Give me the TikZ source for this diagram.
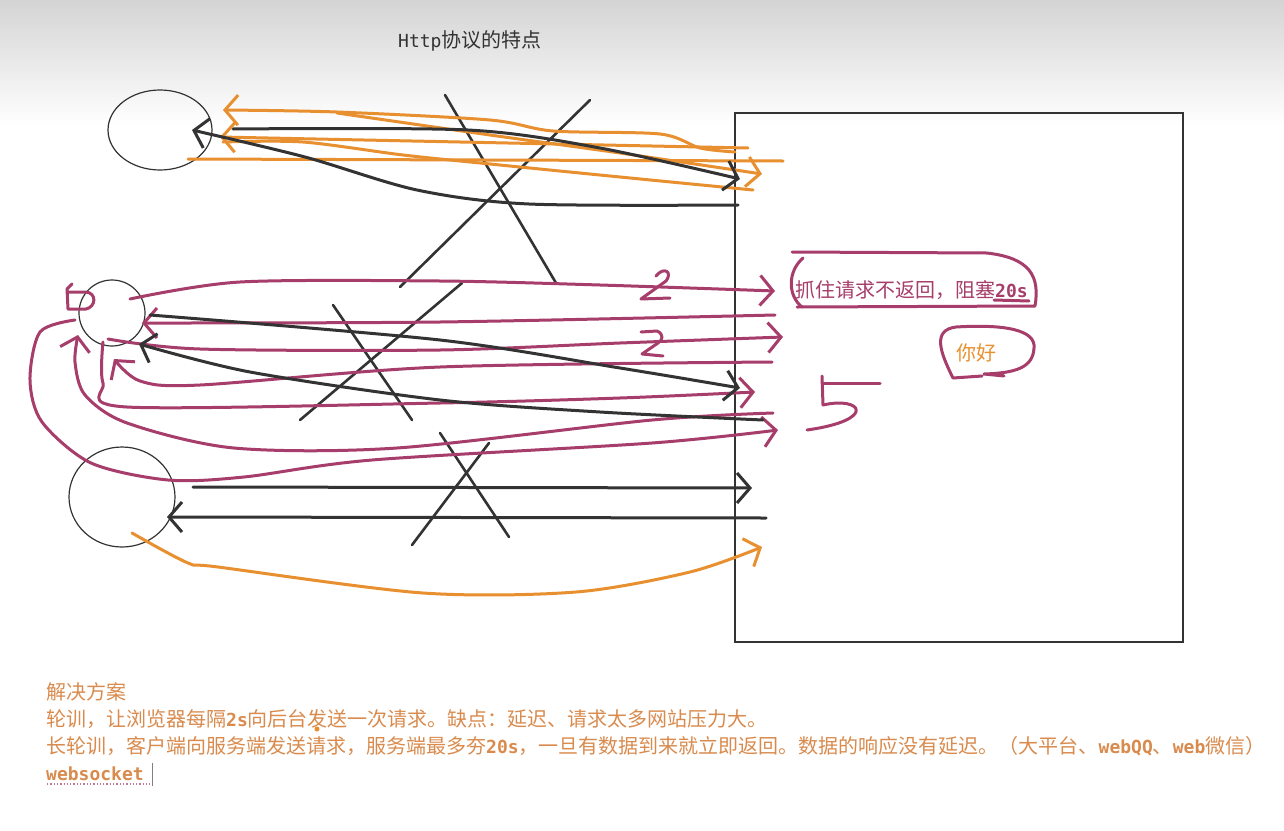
\documentclass[tikz,border=0pt]{standalone}
\usepackage{fontspec}
\usepackage{xcolor}
\usetikzlibrary{arrows.meta,shapes.geometric}
\newfontfamily\cjk{Noto Sans CJK SC}
\newfontfamily\mono{DejaVu Sans Mono}
\newcommand{\code}[1]{{\mono\fontsize{18}{20}\selectfont\bfseries #1}}

\definecolor{inkblack}{HTML}{333333}
\definecolor{penorange}{HTML}{E8902F}
\definecolor{penmagenta}{HTML}{A63D6B}
\definecolor{notecolor}{HTML}{D98B4E}
\definecolor{topgray}{HTML}{D4D4D4}

\tikzset{
	pen/.style={line width=3pt, line cap=round, line join=round},
	blk/.style={pen, draw=inkblack},
	orng/.style={pen, draw=penorange},
	mag/.style={pen, draw=penmagenta},
	barb/.style={-{Straight Barb[length=13pt, width=30pt]}},
	client/.style={ellipse, draw=inkblack, line width=1.2pt, inner sep=0pt},
}

\begin{document}
\begin{tikzpicture}[x=1pt, y=-1pt, font=\cjk\fontsize{20}{27}\selectfont]

	% page and top shade
	\fill[white] (0,0) rectangle (1284,830);
	\shade[top color=topgray, bottom color=white] (0,0) rectangle (1284,125);
	\useasboundingbox (0,0) rectangle (1284,830);

	\node[text=inkblack, anchor=west, inner sep=0pt] (title) at (398,41)
		{{\mono\fontsize{18}{20}\selectfont Http}协议的特点};

	% browsers and server
	\node[client, minimum width=104pt, minimum height=80pt] (c1) at (160,130) {};
	\node[client, minimum width=66pt, minimum height=66pt] (c2) at (112,313) {};
	\node[client, minimum width=106pt, minimum height=100pt] (c3) at (122,497) {};
	\node[draw=inkblack, line width=1.3pt, minimum width=448pt, minimum height=529pt,
		inner sep=0pt] (srv) at (959,377.5) {};

	% crossed out
	\foreach \xa/\ya/\xb/\yb in {445/95/556/283, 590/100/400/287,
		333/305/412/420, 462/283/300/420, 440/433/509/537, 489/443/412/545} {
		\draw[blk, line width=2.6pt] (\xa,\ya) -- (\xb,\yb);
	}

	% polling
	\draw[orng, barb] plot[smooth, tension=0.5] coordinates {(735,152) (700,148) (660,134) (553,131) (490,120) (337,112) (223,110)};
	\draw[orng, barb] plot[smooth] coordinates {(337,113) (490,135) (620,153) (762,174)};
	\draw[orng] plot[smooth] coordinates {(223,142) (303,142) (403,155) (490,164) (620,177) (753,190)};
	\draw[orng] (188,159) -- (783,161);
	\draw[orng, barb] (748,148) -- (220,137);
	\draw[blk, barb] plot[smooth] coordinates {(233,129) (468,130) (600,148) (740,179)};
	\draw[blk, barb] plot[smooth] coordinates {(738,205) (529,204) (417,190) (305,157) (192,130)};

	% long polling
	\draw[mag, barb] plot[smooth] coordinates {(130,299) (240,282) (440,281) (600,285) (775,291)};
	\draw[mag, barb] plot[smooth] coordinates {(775,315) (440,322) (142,323)};
	\draw[mag, barb] plot[smooth] coordinates {(108,339) (200,349) (440,350) (620,343) (783,337)};
	\draw[mag, barb] plot[smooth] coordinates {(772,362) (440,367) (200,385) (140,381) (114,359)};
	\draw[mag, barb] plot[smooth] coordinates {(103,342) (103,383) (127,407) (440,403) (620,398) (755,392)};
	\draw[mag, barb] plot[smooth] coordinates {(773,413) (652,420) (397,448) (234,448) (127,423) (85,395) (75,362) (78,335)};
	\draw[mag, barb] plot[smooth] coordinates {(75,320) (40,332) (30,380) (42,422) (91,463) (168,480) (244,477) (372,460) (652,443) (778,430)};
	\draw[blk, barb] plot[smooth] coordinates {(150,315) (440,340) (620,368) (740,388)};
	\draw[blk, barb] plot[smooth] coordinates {(763,420) (600,412) (440,400) (250,372) (139,344)};

	\draw[mag] (72,284) -- (67,289) -- (68,309) -- (86,309)
		.. controls (96,307) and (97,293) .. (86,292) -- (69,292);
	\draw[mag] (656,276) .. controls (664,266) and (673,272) .. (666,281) -- (641,299) -- (670,298);
	\draw[mag] (641,332) -- (657,331) .. controls (664,334) and (663,340) .. (658,343) -- (642,354) -- (663,356);
	\draw[mag] (880,383) -- (822,383);
	\draw[mag] (822,376) -- (823,405) .. controls (862,396) and (878,420) .. (807,430);

	\node[text=penmagenta, anchor=west, inner sep=0pt] (hold) at (795,290)
		{抓住请求不返回，阻塞\code{20s}};
	\draw[mag] (792,252) -- (987,253) .. controls (1030,258) and (1040,276) .. (1035,306) -- (797,307);
	\draw[mag] (803,258) .. controls (787,272) and (788,296) .. (802,307);
	\draw[mag] (994,300) -- (1029,301);

	\node[text=penorange, anchor=west, inner sep=0pt] (hello) at (956,353) {你好};
	\draw[mag] (982,376) -- (953,378) .. controls (940,352) and (932,330) .. (956,327)
		.. controls (1005,324) and (1036,330) .. (1034,348)
		.. controls (1033,368) and (1015,373) .. (984,374) -- (1004,376);

	% plain request / response
	\draw[blk, barb] (193,487) -- (752,488);
	\draw[blk, barb] (766,518) -- (167,517);
	\draw[orng, barb] plot[smooth] coordinates {(132,533) (188,563) (218,567) (423,593) (576,592) (690,572) (762,547)};

	% notes
	\node[text=notecolor, anchor=north west, align=left, inner sep=0pt] (notes) at (46,682)
		{解决方案\\
		轮训，让浏览器每隔\code{2s}向后台发送一次请求。缺点：延迟、请求太多网站压力大。\\
		长轮训，客户端向服务端发送请求，服务端最多夯\code{20s}，一旦有数据到来就立即返回。数据的响应没有延迟。（大平台、\code{webQQ}、\code{web}微信）\\
		\code{websocket}};
	\draw[penmagenta!70, dotted, line width=1.3pt] (47,784) -- (150,784);
	\draw[gray, line width=0.8pt] (152,763) -- (152,786);
	\fill[penorange] (317,729) circle (2.5);

\end{tikzpicture}
\end{document}
